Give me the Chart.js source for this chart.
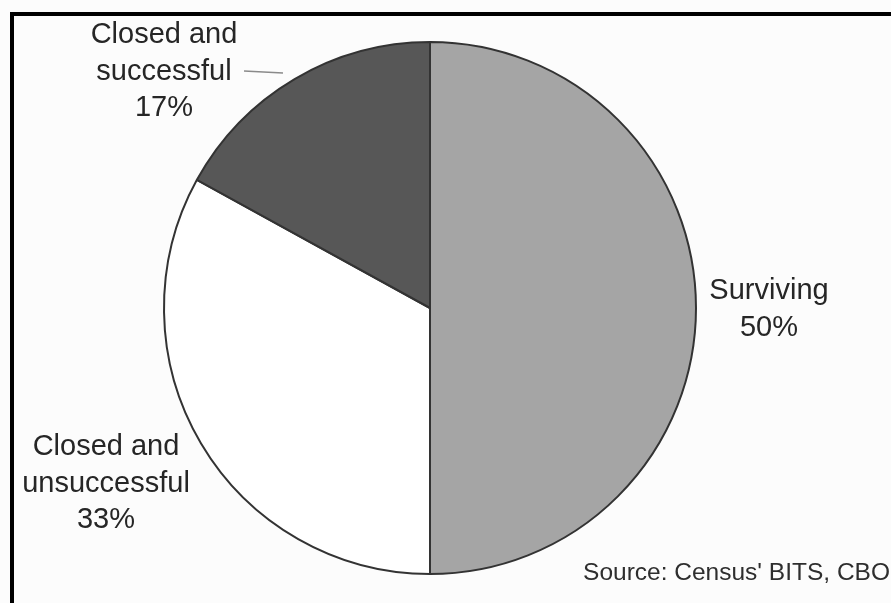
<!DOCTYPE html>
<html>
<head>
<meta charset="utf-8">
<script src="https://cdn.jsdelivr.net/npm/chart.js@4/dist/chart.umd.min.js"></script>
<style>
  html, body { margin: 0; padding: 0; background: #fff; }
  #wrap { width: 891px; height: 603px; position: relative; }
</style>
</head>
<body>
<div id="wrap"><canvas id="pieChart"></canvas></div>
<script>
// slices, clockwise from 12 o'clock
const categories = ["Surviving", "Closed and unsuccessful", "Closed and successful"];
const shares = [50, 33, 17];
const sliceColors = ["#a5a5a5", "#ffffff", "#575757"];
const labelLines = [
    ["Surviving", "50%"],
    ["Closed and", "unsuccessful", "33%"],
    ["Closed and", "successful", "17%"]
];
const sourceNote = "Source: Census' BITS, CBO";

// where each label block sits (centre x, first line middle y)
const labelSpots = [
    { x: 769, y: 291 },
    { x: 106, y: 447 },
    { x: 164, y: 35 }
];

const decorations = {
    id: "decorations",
    beforeDraw(chart) {
        const c = chart.ctx;
        c.save();
        c.fillStyle = "#fcfcfc";
        c.fillRect(0, 0, chart.width, chart.height);
        c.restore();
    },
    afterDraw(chart) {
        const c = chart.ctx;
        c.save();
        // frame
        c.fillStyle = "#000";
        c.fillRect(10, 12, chart.width - 10, 4);
        c.fillRect(10, 12, 4, chart.height - 12);

        // slice labels
        c.fillStyle = "#262626";
        c.font = "29px 'Liberation Sans', Arial, sans-serif";
        c.textAlign = "center";
        c.textBaseline = "middle";
        labelLines.forEach((lines, i) => {
            lines.forEach((t, j) => {
                c.fillText(t, labelSpots[i].x, labelSpots[i].y + j * 36.5);
            });
        });

        // leader line for the small slice
        c.strokeStyle = "#8a8a8a";
        c.lineWidth = 1.5;
        c.beginPath();
        c.moveTo(244, 71);
        c.lineTo(283, 73);
        c.stroke();

        // source
        c.font = "24.5px 'Liberation Sans', Arial, sans-serif";
        c.textAlign = "right";
        c.fillStyle = "#2e2e2e";
        c.fillText(sourceNote, 890, 573);
        c.restore();
    }
};

new Chart(document.getElementById("pieChart").getContext("2d"), {
    type: "pie",
    data: {
        labels: categories,
        datasets: [{
            data: shares,
            backgroundColor: sliceColors,
            borderColor: "#333333",
            borderWidth: 2
        }]
    },
    options: {
        responsive: true,
        maintainAspectRatio: false,
        animation: false,
        layout: { padding: { left: 163, right: 194, top: 41, bottom: 28 } },
        plugins: {
            legend: { display: false },
            tooltip: { enabled: false }
        }
    },
    plugins: [decorations]
});
</script>
</body>
</html>
